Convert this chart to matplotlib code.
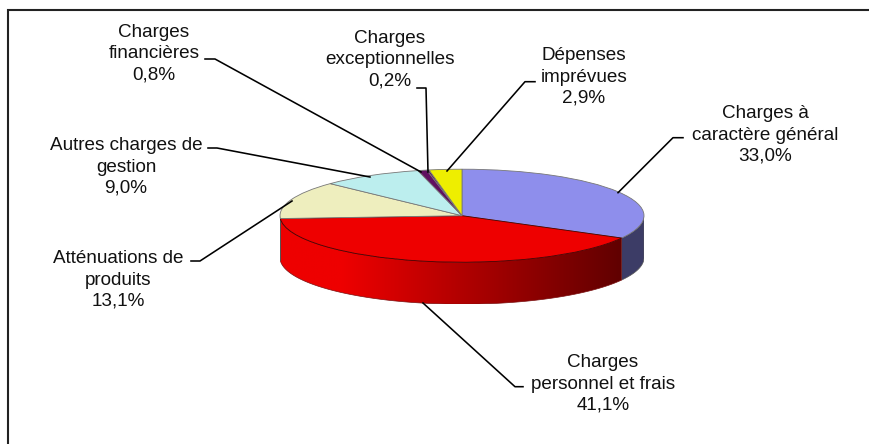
import numpy as np
import matplotlib
matplotlib.use("Agg")
import matplotlib.pyplot as plt
from matplotlib.colors import LinearSegmentedColormap
from matplotlib.patches import Polygon

# values, clockwise from 12 o'clock
categories = ["Charges à\ncaractère général", "Charges\npersonnel et frais",
              "Atténuations de\nproduits", "Autres charges de\ngestion",
              "Charges\nfinancières", "Charges\nexceptionnelles",
              "Dépenses\nimprévues"]
values = [33.0, 41.1, 13.1, 9.0, 0.8, 0.2, 2.9]

top_colors = ["#8E8EEC", "#EE0000", "#EEEEBE", "#BCEEEE", "#600F60", "#600F60", "#EEEE00"]
side_colors = ["#3C3C66", "#EE0000", "#B0B088", "#88B0B0", "#400A40", "#400A40", "#B0B000"]

# label centre and leader line, in pixels of the 870x444 picture
label_pos = [(765, 135), (603, 384), (118, 280), (126, 167), (154, 54), (390, 60), (584, 77)]
leaders = [
    [(683, 137.7), (673, 137.7), (618, 192.7)],
    [(523, 386.7), (515, 386.7), (423, 303)],
    [(191, 261), (200, 261), (292, 201)],
    [(208, 148), (217, 148), (370, 177)],
    [(205, 59), (215, 59), (421, 172)],
    [(417, 88), (426, 88), (428, 172)],
    [(535, 81.7), (525, 81.7), (447, 171)],
]

W, H = 870, 444
CX, CY, RX, RY, DEPTH = 462, 215.7, 182, 46.5, 42

plt.rcParams["font.family"] = ["Liberation Sans", "DejaVu Sans"]
fig = plt.figure(figsize=(W / 100, H / 100), dpi=100, facecolor="white")

# the pie axes span the flattened disc plus the wall under it
d = DEPTH / RY
ax = fig.add_axes([(CX - RX) / W, 1 - (CY + RY + DEPTH) / H, 2 * RX / W, (2 * RY + DEPTH) / H])
wedges, _ = ax.pie(values, colors=top_colors, startangle=90, counterclock=False,
                   wedgeprops={"linewidth": 0.6, "edgecolor": "#777777", "zorder": 5})
wedges[1].set_edgecolor("#4a0000")
ax.set_aspect("auto")
ax.axis("off")

# outer wall: only the part between 90 and 270 degrees faces the viewer
bounds = np.cumsum([0] + values) / sum(values) * 360
red_fade = LinearSegmentedColormap.from_list(
    "red_fade", [(0, "#EE0000"), (0.17, "#EE0000"), (0.94, "#600000"), (1, "#600000")])
for i in range(len(values)):
    a0, a1 = max(bounds[i], 90), min(bounds[i + 1], 270)
    if a1 <= a0:
        continue
    t = np.radians(np.linspace(a0, a1, 200))
    x, y = np.sin(t), np.cos(t)
    verts = np.r_[np.c_[x, y], np.c_[x[::-1], y[::-1] - d]]
    if i == 1:
        wall = Polygon(verts, closed=True, facecolor="none", edgecolor="none", zorder=1)
        ax.add_patch(wall)
        img = ax.imshow(np.linspace(0, 1, 512)[None, :], cmap=red_fade, aspect="auto",
                        extent=(-1, 1, -1 - d, 1), zorder=1)
        img.set_clip_path(wall)
        ax.add_patch(Polygon(verts, closed=True, facecolor="none", edgecolor="#7a1010",
                             linewidth=0.5, zorder=2))
    else:
        ax.add_patch(Polygon(verts, closed=True, facecolor=side_colors[i], edgecolor="#555555",
                             linewidth=0.5, zorder=2))
ax.set_xlim(-1, 1)
ax.set_ylim(-1 - d, 1)

# overlay in picture pixels for frame, leaders and labels
over = fig.add_axes([0, 0, 1, 1], facecolor="none")
over.set_xlim(0, W)
over.set_ylim(H, 0)
over.axis("off")
over.plot([8, 8, W], [H, 10, 10], color="#222222", lw=1.5, solid_joinstyle="miter")

for name, val, (lx, ly), pts in zip(categories, values, label_pos, leaders):
    xs, ys = zip(*pts)
    over.plot(xs, ys, color="black", lw=1.15)
    pct = f"{val:.1f}%".replace(".", ",")
    over.text(lx, ly, f"{name}\n{pct}", ha="center", va="center", fontsize=13.6,
              linespacing=1.34, color="#111111")

fig.savefig("out.png", dpi=100)
plt.close(fig)
